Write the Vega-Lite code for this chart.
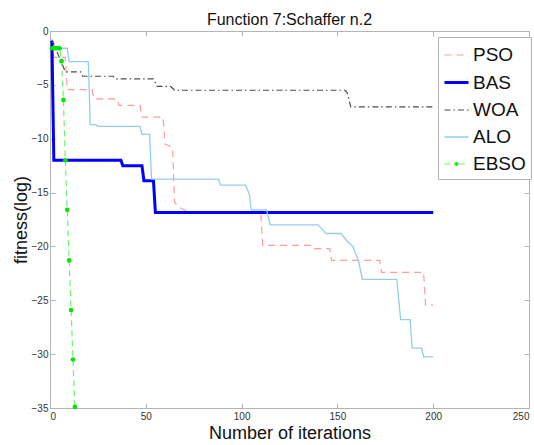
{
  "$schema": "https://vega.github.io/schema/vega-lite/v6.json",
  "autosize": "none",
  "width": 479,
  "height": 377,
  "padding": {"left": 50, "top": 31, "right": 5, "bottom": 37},
  "background": "white",
  "title": {
    "text": "Function 7:Schaffer n.2",
    "font": "Liberation Sans",
    "fontSize": 16,
    "fontWeight": "normal",
    "color": "#111",
    "offset": 3,
    "dy": 5
  },
  "config": {
    "view": {"stroke": "#b5b5b5", "strokeWidth": 1},
    "axis": {
      "grid": false,
      "domainColor": "#b5b5b5",
      "tickColor": "#b5b5b5",
      "tickSize": -5,
      "labelFont": "Liberation Sans",
      "labelFontSize": 10,
      "labelColor": "#333",
      "titleFont": "Liberation Sans",
      "titleFontSize": 18,
      "titleFontWeight": "normal",
      "titleColor": "#111"
    }
  },
  "datasets": {
    "curves": [
      {"alg": "PSO", "iter": 1, "fit": -1.0},
      {"alg": "PSO", "iter": 2, "fit": -2.45},
      {"alg": "PSO", "iter": 8, "fit": -2.45},
      {"alg": "PSO", "iter": 9, "fit": -5.45},
      {"alg": "PSO", "iter": 22, "fit": -5.45},
      {"alg": "PSO", "iter": 23, "fit": -6.3},
      {"alg": "PSO", "iter": 35, "fit": -6.3},
      {"alg": "PSO", "iter": 36, "fit": -6.9},
      {"alg": "PSO", "iter": 47, "fit": -6.9},
      {"alg": "PSO", "iter": 48, "fit": -8.0},
      {"alg": "PSO", "iter": 59, "fit": -8.0},
      {"alg": "PSO", "iter": 60, "fit": -10.5},
      {"alg": "PSO", "iter": 64, "fit": -10.8},
      {"alg": "PSO", "iter": 65, "fit": -15.9},
      {"alg": "PSO", "iter": 67, "fit": -16.3},
      {"alg": "PSO", "iter": 70, "fit": -16.6},
      {"alg": "PSO", "iter": 72, "fit": -16.9},
      {"alg": "PSO", "iter": 110, "fit": -16.9},
      {"alg": "PSO", "iter": 111, "fit": -19.9},
      {"alg": "PSO", "iter": 137, "fit": -19.9},
      {"alg": "PSO", "iter": 138, "fit": -20.2},
      {"alg": "PSO", "iter": 146, "fit": -20.2},
      {"alg": "PSO", "iter": 147, "fit": -21.3},
      {"alg": "PSO", "iter": 172, "fit": -21.3},
      {"alg": "PSO", "iter": 173, "fit": -22.4},
      {"alg": "PSO", "iter": 195, "fit": -22.4},
      {"alg": "PSO", "iter": 196, "fit": -25.45},
      {"alg": "PSO", "iter": 200, "fit": -25.45},

      {"alg": "BAS", "iter": 1, "fit": -0.9},
      {"alg": "BAS", "iter": 2, "fit": -12.0},
      {"alg": "BAS", "iter": 37, "fit": -12.0},
      {"alg": "BAS", "iter": 38, "fit": -12.5},
      {"alg": "BAS", "iter": 48, "fit": -12.5},
      {"alg": "BAS", "iter": 49, "fit": -13.9},
      {"alg": "BAS", "iter": 54, "fit": -13.9},
      {"alg": "BAS", "iter": 55, "fit": -16.85},
      {"alg": "BAS", "iter": 200, "fit": -16.85},

      {"alg": "WOA", "iter": 1, "fit": -0.8},
      {"alg": "WOA", "iter": 8, "fit": -3.8},
      {"alg": "WOA", "iter": 16, "fit": -3.8},
      {"alg": "WOA", "iter": 17, "fit": -4.2},
      {"alg": "WOA", "iter": 33, "fit": -4.2},
      {"alg": "WOA", "iter": 34, "fit": -4.45},
      {"alg": "WOA", "iter": 54, "fit": -4.45},
      {"alg": "WOA", "iter": 56, "fit": -5.15},
      {"alg": "WOA", "iter": 63, "fit": -5.15},
      {"alg": "WOA", "iter": 65, "fit": -5.5},
      {"alg": "WOA", "iter": 154, "fit": -5.5},
      {"alg": "WOA", "iter": 155, "fit": -5.7},
      {"alg": "WOA", "iter": 157, "fit": -7.05},
      {"alg": "WOA", "iter": 200, "fit": -7.05},

      {"alg": "ALO", "iter": 1, "fit": -1.6},
      {"alg": "ALO", "iter": 9, "fit": -1.6},
      {"alg": "ALO", "iter": 10, "fit": -2.85},
      {"alg": "ALO", "iter": 20, "fit": -2.85},
      {"alg": "ALO", "iter": 21, "fit": -8.7},
      {"alg": "ALO", "iter": 24, "fit": -8.7},
      {"alg": "ALO", "iter": 25, "fit": -8.85},
      {"alg": "ALO", "iter": 47, "fit": -8.85},
      {"alg": "ALO", "iter": 48, "fit": -9.6},
      {"alg": "ALO", "iter": 52, "fit": -9.6},
      {"alg": "ALO", "iter": 53, "fit": -13.75},
      {"alg": "ALO", "iter": 88, "fit": -13.75},
      {"alg": "ALO", "iter": 89, "fit": -14.3},
      {"alg": "ALO", "iter": 102, "fit": -14.3},
      {"alg": "ALO", "iter": 104, "fit": -15.1},
      {"alg": "ALO", "iter": 105, "fit": -16.6},
      {"alg": "ALO", "iter": 113, "fit": -16.6},
      {"alg": "ALO", "iter": 115, "fit": -18.0},
      {"alg": "ALO", "iter": 140, "fit": -18.0},
      {"alg": "ALO", "iter": 144, "fit": -18.8},
      {"alg": "ALO", "iter": 152, "fit": -18.8},
      {"alg": "ALO", "iter": 155, "fit": -19.5},
      {"alg": "ALO", "iter": 158, "fit": -20.0},
      {"alg": "ALO", "iter": 161, "fit": -21.3},
      {"alg": "ALO", "iter": 163, "fit": -23.05},
      {"alg": "ALO", "iter": 181, "fit": -23.05},
      {"alg": "ALO", "iter": 183, "fit": -26.8},
      {"alg": "ALO", "iter": 188, "fit": -26.8},
      {"alg": "ALO", "iter": 189, "fit": -29.45},
      {"alg": "ALO", "iter": 194, "fit": -29.45},
      {"alg": "ALO", "iter": 195, "fit": -30.25},
      {"alg": "ALO", "iter": 200, "fit": -30.25},

      {"alg": "EBSO", "iter": 1, "fit": -1.6},
      {"alg": "EBSO", "iter": 2, "fit": -1.6},
      {"alg": "EBSO", "iter": 3, "fit": -1.6},
      {"alg": "EBSO", "iter": 4, "fit": -1.6},
      {"alg": "EBSO", "iter": 5, "fit": -1.6},
      {"alg": "EBSO", "iter": 6, "fit": -2.8},
      {"alg": "EBSO", "iter": 7, "fit": -6.4},
      {"alg": "EBSO", "iter": 8, "fit": -12.0},
      {"alg": "EBSO", "iter": 9, "fit": -16.6},
      {"alg": "EBSO", "iter": 10, "fit": -21.3},
      {"alg": "EBSO", "iter": 11, "fit": -25.9},
      {"alg": "EBSO", "iter": 12, "fit": -30.5},
      {"alg": "EBSO", "iter": 13, "fit": -34.9}
    ]
  },
  "data": {"name": "curves"},
  "resolve": {"axis": {"x": "independent", "y": "independent"}},
  "layer": [
    {
      "mark": {"type": "line", "clip": true},
      "encoding": {
        "x": {
          "field": "iter", "type": "quantitative",
          "scale": {"domain": [0, 250], "nice": false},
          "axis": {"values": [0, 50, 100, 150, 200, 250], "title": "Number of iterations", "labelPadding": 8, "titlePadding": 3}
        },
        "y": {
          "field": "fit", "type": "quantitative",
          "scale": {"domain": [-35, 0], "nice": false},
          "axis": {"values": [0, -5, -10, -15, -20, -25, -30, -35], "title": "fitness(log)", "labelPadding": 7, "titlePadding": 1}
        },
        "color": {
          "field": "alg", "type": "nominal",
          "scale": {"domain": ["PSO", "BAS", "WOA", "ALO", "EBSO"], "range": ["#ff9c9c", "#0000ff", "#4d4d4d", "#94cdec", "#6cf56c"]},
          "legend": {
            "title": null,
            "orient": "none",
            "legendX": 388,
            "legendY": 6,
            "fillColor": "white",
            "strokeColor": "#b5b5b5",
            "padding": 5,
            "symbolType": "stroke",
            "symbolSize": 576,
            "labelFont": "Liberation Sans",
            "labelFontSize": 19,
            "labelColor": "#111",
            "labelOffset": 3,
            "rowPadding": 4,
            "encode": {
              "symbols": {
                "update": {
                  "shape": {"signal": "datum.label === 'EBSO' ? 'M-1,0H-0.2M0.2,0H1M-0.15,0A0.15,0.15 0 1,1 0.15,0A0.15,0.15 0 1,1 -0.15,0' : 'stroke'"},
                  "fill": {"signal": "datum.label === 'EBSO' ? '#00e600' : 'transparent'"}
                }
              }
            }
          }
        },
        "strokeDash": {
          "field": "alg", "type": "nominal",
          "scale": {"domain": ["PSO", "BAS", "WOA", "ALO", "EBSO"], "range": [[7, 5], [1, 0], [6, 3, 1.5, 3], [1, 0], [6, 4]]},
          "legend": null
        },
        "strokeWidth": {
          "field": "alg", "type": "nominal",
          "scale": {"type": "ordinal", "domain": ["PSO", "BAS", "WOA", "ALO", "EBSO"], "range": [1.2, 3, 1.2, 1.3, 1.2]},
          "legend": null
        },
        "order": {"field": "iter", "type": "quantitative"}
      }
    },
    {
      "transform": [{"filter": "datum.alg === 'EBSO'"}],
      "mark": {"type": "point", "filled": true, "shape": "circle", "size": 22, "color": "#00e600", "opacity": 1},
      "encoding": {
        "x": {"field": "iter", "type": "quantitative", "axis": null},
        "y": {"field": "fit", "type": "quantitative", "axis": null}
      }
    },
    {
      "transform": [{"filter": "false"}],
      "mark": {"type": "point", "opacity": 0},
      "encoding": {
        "x": {"field": "iter", "type": "quantitative", "axis": {"orient": "top", "labels": false, "title": null, "values": [0, 50, 100, 150, 200, 250]}},
        "y": {"field": "fit", "type": "quantitative", "axis": {"orient": "right", "labels": false, "title": null, "values": [0, -5, -10, -15, -20, -25, -30, -35]}}
      }
    }
  ]
}
